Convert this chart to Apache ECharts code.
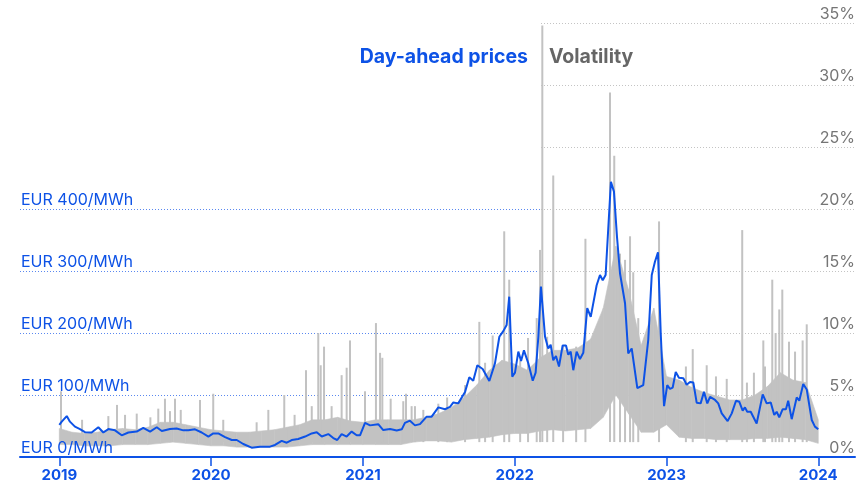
<!DOCTYPE html>
<html>
<head>
<meta charset="utf-8">
<script src="https://cdn.jsdelivr.net/npm/echarts@6/dist/echarts.min.js"></script>
<style>
  html, body { margin: 0; padding: 0; background: #fff; }
  #chart { width: 868px; height: 489px; }
</style>
</head>
<body>
<div id="chart"></div>
<script>
// day-ahead price, EUR/MWh (decimal year -> value)
const priceT = [2019.000, 2019.016, 2019.049, 2019.070, 2019.103, 2019.136, 2019.169, 2019.213, 2019.257, 2019.290,
  2019.323, 2019.367, 2019.411, 2019.455, 2019.510, 2019.553, 2019.598, 2019.642, 2019.675, 2019.729,
  2019.773, 2019.817, 2019.850, 2019.894, 2019.938, 2019.982, 2020.014, 2020.047, 2020.092, 2020.136,
  2020.169, 2020.212, 2020.267, 2020.322, 2020.388, 2020.421, 2020.465, 2020.498, 2020.531, 2020.574,
  2020.619, 2020.663, 2020.696, 2020.729, 2020.772, 2020.805, 2020.831, 2020.860, 2020.893, 2020.926,
  2020.959, 2020.981, 2021.014, 2021.047, 2021.101, 2021.134, 2021.179, 2021.223, 2021.256, 2021.277,
  2021.310, 2021.343, 2021.376, 2021.420, 2021.453, 2021.497, 2021.541, 2021.574, 2021.596, 2021.628,
  2021.673, 2021.701, 2021.727, 2021.754, 2021.789, 2021.833, 2021.870, 2021.899, 2021.925, 2021.947,
  2021.964, 2021.984, 2022.002, 2022.024, 2022.042, 2022.061, 2022.090, 2022.119, 2022.138, 2022.156,
  2022.173, 2022.200, 2022.221, 2022.237, 2022.254, 2022.272, 2022.292, 2022.316, 2022.338, 2022.353,
  2022.369, 2022.386, 2022.408, 2022.430, 2022.452, 2022.478, 2022.501, 2022.540, 2022.562, 2022.580,
  2022.599, 2022.634, 2022.654, 2022.674, 2022.694, 2022.727, 2022.748, 2022.771, 2022.808, 2022.847,
  2022.880, 2022.903, 2022.924, 2022.944, 2022.962, 2022.984, 2023.005, 2023.023, 2023.041, 2023.061,
  2023.082, 2023.111, 2023.133, 2023.155, 2023.177, 2023.199, 2023.225, 2023.247, 2023.269, 2023.287,
  2023.320, 2023.341, 2023.364, 2023.403, 2023.430, 2023.458, 2023.480, 2023.502, 2023.517, 2023.532,
  2023.555, 2023.594, 2023.634, 2023.660, 2023.687, 2023.710, 2023.726, 2023.743, 2023.765, 2023.787,
  2023.802, 2023.825, 2023.858, 2023.875, 2023.901, 2023.924, 2023.957, 2023.978, 2024.000];
const priceV = [52, 57, 66, 57, 49, 45, 40, 39.5, 48, 39.5,
  45, 43, 35, 39.5, 41, 47, 41, 48, 42, 45,
  46, 43, 43, 44.6, 39.5, 33, 38, 38, 32, 27.4,
  27.4, 21, 15, 16.7, 16.7, 19.4, 26, 23, 27.4, 29,
  33, 38, 40, 33, 37, 30.5, 27.4, 37, 33, 41,
  35, 35, 55, 51, 53, 43.5, 45, 42.7, 44.6, 55,
  58.6, 51, 53, 65, 65, 80, 77, 81, 88, 86.5,
  105, 128.5, 123, 148, 142, 122.6, 151, 194, 203, 213,
  258.6, 129.5, 136, 170, 155, 172, 151, 123, 136, 194,
  275, 194, 175, 181, 156, 163, 146, 180, 180, 165,
  170, 140, 170, 158, 168, 240, 226, 277, 293.5, 285,
  293.5, 444, 428, 355, 296, 248, 167, 175, 111, 116,
  189, 293.5, 315, 330, 200, 82, 116, 110, 112, 137,
  128, 127, 116.5, 121, 120, 87.6, 86.5, 105, 86.5, 97,
  92, 86.5, 70.4, 58, 70.4, 90.8, 89, 74.7, 80, 73,
  73, 54, 101, 86.5, 88, 67.7, 73, 64, 77, 77,
  90.8, 61, 96, 90.8, 117.7, 109, 59.7, 49, 44.6];

// volatility, % : monthly band of the dense daily values
const volMonths = ['2019-01','2019-02','2019-03','2019-04','2019-05','2019-06','2019-07','2019-08','2019-09','2019-10','2019-11','2019-12',
  '2020-01','2020-02','2020-03','2020-04','2020-05','2020-06','2020-07','2020-08','2020-09','2020-10','2020-11','2020-12',
  '2021-01','2021-02','2021-03','2021-04','2021-05','2021-06','2021-07','2021-08','2021-09','2021-10','2021-11','2021-12',
  '2022-01','2022-02','2022-03','2022-04','2022-05','2022-06','2022-07','2022-08','2022-09','2022-10','2022-11','2022-12',
  '2023-01','2023-02','2023-03','2023-04','2023-05','2023-06','2023-07','2023-08','2023-09','2023-10','2023-11','2023-12','2024-01'];
const volLow = [1.0, 1.0, 0.9, 0.9, 0.9, 1.0, 1.0, 1.0, 1.1, 1.2, 1.1, 1.0,
  0.9, 0.9, 0.8, 0.8, 0.8, 0.8, 0.8, 0.9, 1.0, 1.0, 1.0, 1.0,
  1.0, 1.0, 1.0, 1.0, 1.2, 1.3, 1.3, 1.2, 1.4, 1.5, 1.6, 1.8,
  1.9, 1.9, 2.1, 2.2, 2.1, 2.2, 2.3, 3.2, 5.0, 3.5, 2.0, 2.0,
  2.6, 1.6, 1.5, 1.5, 1.4, 1.4, 1.4, 1.5, 1.5, 1.6, 1.5, 1.4, 1.1];
const volHigh = [2.3, 2.0, 1.9, 2.0, 2.2, 2.3, 2.2, 2.4, 2.8, 2.8, 2.6, 2.4,
  2.2, 2.1, 2.0, 2.0, 2.1, 2.2, 2.4, 2.6, 3.0, 3.0, 3.2, 2.9,
  2.8, 3.0, 3.0, 3.0, 3.0, 3.2, 3.5, 4.0, 4.8, 5.8, 7.0, 7.8,
  7.5, 7.0, 8.0, 8.6, 8.6, 8.8, 9.5, 12.0, 17.0, 13.5, 9.0, 12.0,
  6.5, 6.2, 5.6, 5.2, 4.9, 4.6, 4.6, 5.0, 5.7, 6.8, 6.2, 6.0, 3.0];

// single-day volatility spikes, %
const spikeT = [2019.011, 2019.150, 2019.323, 2019.380, 2019.433, 2019.510, 2019.600, 2019.652, 2019.696, 2019.729,
  2019.762, 2019.800, 2019.927, 2020.014, 2020.080, 2020.300, 2020.377, 2020.482, 2020.550, 2020.625,
  2020.663, 2020.706, 2020.722, 2020.744, 2020.794, 2020.860, 2020.893, 2020.915, 2021.014, 2021.086,
  2021.113, 2021.128, 2021.183, 2021.266, 2021.284, 2021.321, 2021.343, 2021.398, 2021.497, 2021.555,
  2021.673, 2021.767, 2021.805, 2021.855, 2021.931, 2021.964, 2022.036, 2022.088, 2022.145, 2022.167,
  2022.182, 2022.214, 2022.254, 2022.319, 2022.405, 2022.466, 2022.628, 2022.656, 2022.694, 2022.727,
  2022.760, 2022.781, 2022.814, 2022.951, 2023.128, 2023.173, 2023.265, 2023.326, 2023.397, 2023.499,
  2023.530, 2023.576, 2023.638, 2023.649, 2023.697, 2023.719, 2023.743, 2023.763, 2023.807, 2023.847,
  2023.897, 2023.924];
const spikeV = [5.3, 3.0, 3.3, 4.2, 3.4, 3.5, 3.2, 3.9, 4.7, 3.7,
  4.7, 3.8, 4.6, 5.1, 3.0, 2.8, 3.8, 5.0, 3.4, 7.0,
  4.1, 10.0, 7.4, 8.9, 4.1, 6.6, 7.2, 9.4, 5.3, 10.8,
  8.4, 8.0, 4.7, 4.5, 5.1, 4.1, 4.1, 3.8, 4.3, 4.8,
  5.8, 10.9, 7.6, 9.8, 18.2, 14.3, 7.8, 9.6, 11.2, 16.7,
  34.8, 9.7, 22.7, 9.0, 8.9, 17.6, 29.4, 24.3, 16.4, 15.9,
  17.8, 14.9, 11.2, 19.0, 7.3, 8.7, 7.4, 6.5, 6.3, 18.3,
  6.0, 6.8, 9.4, 7.3, 14.3, 10.0, 11.9, 13.5, 9.3, 8.5,
  9.4, 10.7];

const yearTicks = [2019, 2020, 2021, 2022, 2023, 2024];
const priceTicks = [0, 100, 200, 300, 400];
const volTicks = [0, 5, 10, 15, 20, 25, 30, 35];

const BLUE = '#0d52e6';
const GREY = '#c2c2c2';
const FONT = 'Inter';

const volT = volMonths.map(m => {
  const [y, mo] = m.split('-').map(Number);
  return y + (mo - 1) / 12;
});
// one row per month-to-month segment of the band
const bandRows = [];
for (let i = 0; i < volT.length - 1; i++) {
  bandRows.push([volT[i], volLow[i], volHigh[i], volT[i + 1], volLow[i + 1], volHigh[i + 1]]);
}

const chart = echarts.init(document.getElementById('chart'));

const priceLabels = {
  inside: true, margin: 1, verticalAlign: 'bottom', padding: [0, 0, 1, 0],
  formatter: v => priceTicks.includes(v) ? 'EUR ' + v + '/MWh' : '',
  color: BLUE, fontFamily: FONT, fontSize: 16
};
const volLabels = {
  inside: true, margin: 0, verticalAlign: 'bottom', padding: [0, 0, 1, 0],
  formatter: v => volTicks.includes(v) ? v + '%' : '',
  color: '#757575', fontFamily: FONT, fontSize: 16
};

const option = {
  animation: false,
  grid: [
    { left: 20, right: 13, top: 23, bottom: 32 },     // data
    { left: 20, right: 328, top: 209, bottom: 32 },   // price gridlines
    { left: 541, right: 13, top: 23, bottom: 32 }     // volatility gridlines
  ],
  xAxis: [
    {
      gridIndex: 0, type: 'value', min: 2018.741, max: 2024.242, z: 6,
      splitLine: { show: false },
      axisLine: { show: true, lineStyle: { color: BLUE, width: 2 } },
      axisTick: { show: true, customValues: yearTicks, length: 9, lineStyle: { color: BLUE, width: 1.5 } },
      axisLabel: {
        customValues: yearTicks, formatter: v => String(v), margin: 11,
        color: BLUE, fontFamily: FONT, fontWeight: 'bold', fontSize: 15
      }
    },
    { gridIndex: 1, type: 'value', show: false },
    { gridIndex: 2, type: 'value', show: false }
  ],
  yAxis: [
    { gridIndex: 0, type: 'value', min: 0, max: 700, show: false },
    { gridIndex: 0, type: 'value', min: 0, max: 35, show: false },
    // gridlines (behind the data)
    {
      gridIndex: 1, type: 'value', min: 0, max: 400, interval: 100, position: 'left', z: 0,
      axisLine: { show: false }, axisTick: { show: false }, axisLabel: { show: false },
      splitLine: { show: true, showMinLine: false, lineStyle: { color: '#5a88f0', type: [1, 2], width: 1 } }
    },
    {
      gridIndex: 2, type: 'value', min: 0, max: 35, interval: 5, position: 'right', z: 0,
      axisLine: { show: false }, axisTick: { show: false }, axisLabel: { show: false },
      splitLine: { show: true, showMinLine: false, lineStyle: { color: '#c4c4c4', type: [1, 2], width: 1 } }
    },
    // labels (in front of the data)
    {
      gridIndex: 1, type: 'value', min: 0, max: 400, interval: 100, position: 'left', z: 8,
      axisLine: { show: false }, axisTick: { show: false }, splitLine: { show: false },
      axisLabel: priceLabels
    },
    {
      gridIndex: 2, type: 'value', min: 0, max: 35, interval: 5, position: 'right', z: 8,
      axisLine: { show: false }, axisTick: { show: false }, splitLine: { show: false },
      axisLabel: volLabels
    }
  ],
  graphic: [
    {
      type: 'text', right: 868 - 528, top: 47,
      style: { text: 'Day-ahead prices', fill: BLUE, font: 'bold 19.5px Inter' }
    },
    {
      type: 'text', left: 549, top: 47,
      style: { text: 'Volatility', fill: '#666666', font: 'bold 19.5px Inter' }
    }
  ],
  series: [
    {
      name: 'volBand', type: 'custom', xAxisIndex: 0, yAxisIndex: 1, silent: true,
      renderItem: (params, api) => {
        const a = api.coord([api.value(0), api.value(1)]);
        const b = api.coord([api.value(3), api.value(4)]);
        const c = api.coord([api.value(3), api.value(5)]);
        const d = api.coord([api.value(0), api.value(2)]);
        return {
          type: 'polygon',
          shape: { points: [a, b, c, d] },
          style: { fill: GREY, stroke: GREY, lineWidth: 0.6 }
        };
      },
      encode: { x: [0, 3], y: [1, 2, 4, 5] },
      data: bandRows
    },
    {
      name: 'spikes', type: 'custom', xAxisIndex: 0, yAxisIndex: 1, silent: true,
      renderItem: (params, api) => {
        const t = api.value(0);
        const p0 = api.coord([t, 1.2]);
        const p1 = api.coord([t, api.value(1)]);
        return {
          type: 'line',
          shape: { x1: p0[0], y1: p0[1], x2: p1[0], y2: p1[1] },
          style: { stroke: GREY, lineWidth: 2 }
        };
      },
      encode: { x: 0, y: 1 },
      data: spikeT.map((t, i) => [t, spikeV[i]])
    },
    {
      name: 'Day-ahead prices', type: 'line', xAxisIndex: 0, yAxisIndex: 0,
      symbol: 'none', z: 5,
      lineStyle: { color: BLUE, width: 2 },
      data: priceT.map((t, i) => [t, priceV[i]])
    }
  ]
};

chart.setOption(option);
</script>
</body>
</html>
